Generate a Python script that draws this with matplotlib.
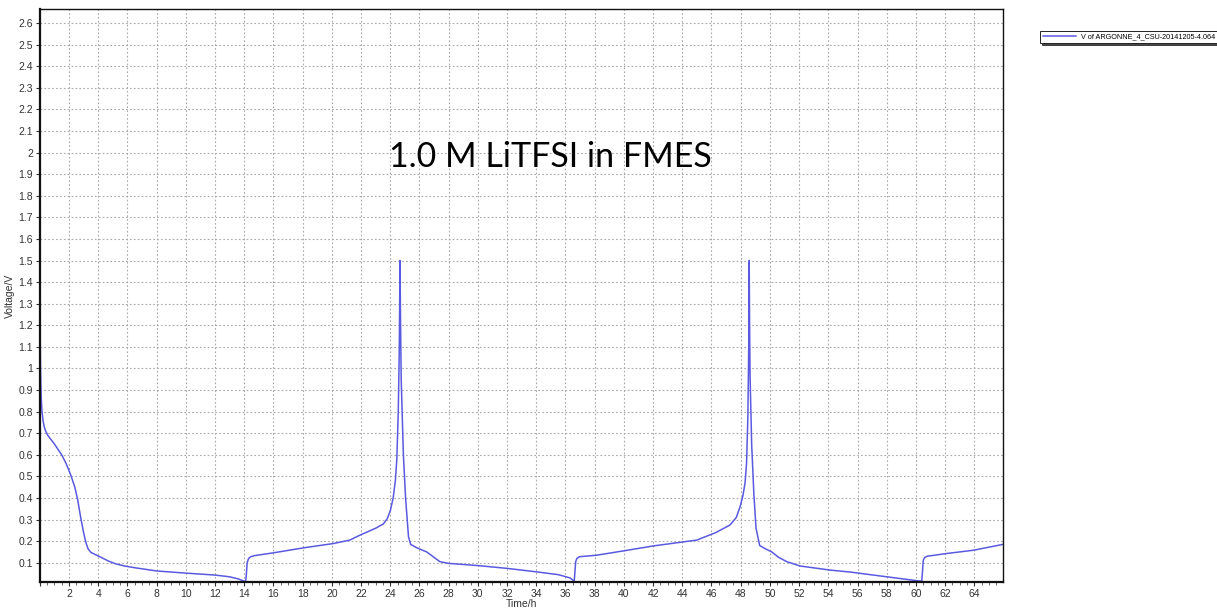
import numpy as np
import matplotlib
matplotlib.use('Agg')
import matplotlib.pyplot as plt
from matplotlib.ticker import MultipleLocator, FuncFormatter

# cycling data: time (h) and voltage (V), read in three pieces
# first discharge
t1 = [0.0, 0.02, 0.04, 0.07, 0.1, 0.15, 0.22, 0.3, 0.4, 0.55, 0.75, 0.95, 1.2, 1.5,
      1.8, 2.1, 2.4, 2.6, 2.8, 3.0, 3.15, 3.3, 3.5, 3.8, 4.2, 4.7, 5.2, 5.8, 6.5,
      8.0, 10.0, 12.0, 13.0, 13.6, 14.1]
v1 = [1.33, 1.2, 1.05, 0.93, 0.86, 0.8, 0.76, 0.73, 0.71, 0.69, 0.672, 0.655, 0.63,
      0.6, 0.56, 0.51, 0.45, 0.39, 0.31, 0.24, 0.195, 0.165, 0.148, 0.138, 0.125,
      0.108, 0.095, 0.085, 0.077, 0.062, 0.052, 0.043, 0.035, 0.025, 0.012]

# first charge + second discharge
t2 = [14.1, 14.15, 14.2, 14.3, 14.45, 14.7, 16.0, 18.05, 20.1, 21.23, 21.93, 23.0,
      23.53, 23.8, 24.0, 24.2, 24.35, 24.45, 24.55, 24.62, 24.67, 24.7, 24.75,
      24.9, 25.05, 25.25, 25.4, 25.8, 26.5, 27.0, 27.4, 28.0, 30.0, 32.0, 34.0,
      35.5, 36.3, 36.6]
v2 = [0.012, 0.05, 0.1, 0.12, 0.128, 0.133, 0.146, 0.169, 0.189, 0.205, 0.228, 0.26,
      0.28, 0.305, 0.34, 0.4, 0.48, 0.58, 0.8, 1.1, 1.5, 1.25, 0.95,
      0.6, 0.4, 0.22, 0.185, 0.17, 0.15, 0.125, 0.105, 0.097, 0.087, 0.074, 0.058,
      0.045, 0.03, 0.015]

# second charge + third discharge + third charge
t3 = [36.6, 36.65, 36.7, 36.78, 36.95, 38.14, 39.97, 42.02, 44.99, 46.3, 47.27,
      47.7, 47.96, 48.15, 48.3, 48.4, 48.49, 48.55, 48.58, 48.61, 48.64, 48.75,
      48.9, 49.05, 49.3, 49.6, 50.13, 50.6, 51.16, 52.07, 54.13, 55.5, 58.0,
      60.06, 60.4, 60.45, 60.5, 60.58, 60.75, 62.12, 63.94, 65.95]
v3 = [0.015, 0.06, 0.105, 0.12, 0.128, 0.135, 0.155, 0.178, 0.205, 0.24, 0.275,
      0.31, 0.36, 0.41, 0.47, 0.56, 0.77, 1.1, 1.5, 1.2, 0.97, 0.65,
      0.42, 0.26, 0.18, 0.168, 0.15, 0.125, 0.105, 0.085, 0.066, 0.057, 0.035,
      0.017, 0.015, 0.06, 0.11, 0.123, 0.13, 0.143, 0.158, 0.185]

time = t1 + t2[1:] + t3[1:]
volt = v1 + v2[1:] + v3[1:]

fig = plt.figure(figsize=(12.17, 6.08), dpi=100)
ax = fig.add_axes([0.0327, 0.0428, 0.7913, 0.9424])

ax.plot(time, volt, color='#5a5ae0', lw=1.1,
        label='V of ARGONNE_4_CSU-20141205-4.064')

ax.set_xlim(0, 65.95)
ax.set_ylim(0.011, 2.665)

ax.xaxis.set_major_locator(MultipleLocator(2))
ax.xaxis.set_minor_locator(MultipleLocator(0.5))
ax.yaxis.set_major_locator(MultipleLocator(0.1))
ax.xaxis.set_major_formatter(FuncFormatter(lambda v, p: '' if v < 1 else '%g' % v))
ax.yaxis.set_major_formatter(FuncFormatter(lambda v, p: '%g' % round(v, 1)))

ax.tick_params(axis='both', which='major', labelsize=7.5, colors='#333333',
               length=3, width=0.8, pad=2)
ax.tick_params(axis='x', which='minor', length=2, width=0.6, colors='#555555')
for lab in ax.get_xticklabels() + ax.get_yticklabels():
    lab.set_family('Liberation Sans')

ax.grid(True, which='major', color='#a8a8a8', linestyle=(0, (1.5, 2)), linewidth=0.8)

for side in ['left', 'bottom']:
    ax.spines[side].set_linewidth(1.6)
for side in ['top', 'right']:
    ax.spines[side].set_linewidth(1.0)
for s in ax.spines.values():
    s.set_color('#111111')

ax.set_xlabel('Time/h', fontsize=7.5, color='#333333', labelpad=0, family='Liberation Sans')
ax.set_ylabel('Voltage/V', fontsize=7.5, color='#333333', labelpad=2, family='Liberation Sans')

ax.text(35.0, 1.98, '1.0 M LiTFSI in FMES', fontsize=24.5, family='Lato',
        ha='center', va='center', color='black')

leg = fig.legend(loc='upper left', bbox_to_anchor=(0.852, 0.955),
                 prop={'family': 'Liberation Sans', 'size': 5.2},
                 frameon=True, fancybox=False,
                 shadow={'ox': 1.2, 'oy': -1.2, 'color': '#333333', 'alpha': 0.9},
                 handlelength=4.5, borderpad=0.35, handletextpad=0.8)
leg.get_frame().set_edgecolor('#222222')
leg.get_frame().set_linewidth(0.7)

fig.savefig('out.png', dpi=100)
